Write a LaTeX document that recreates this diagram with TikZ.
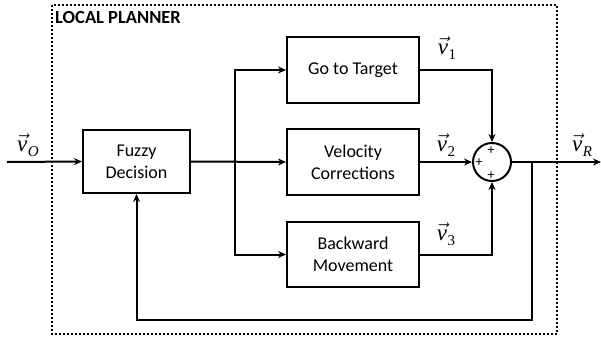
\documentclass[tikz,border=0pt]{standalone}
\usepackage{fontspec}
\setmainfont{Carlito}
\newfontfamily\lserif{Liberation Serif}
\usetikzlibrary{arrows.meta}
\newcommand\vlab[2]{{\lserif\fontsize{23}{23}\selectfont$\vec{\textit{v}}$\kern0.5pt\raisebox{-5pt}{\fontsize{15}{15}\selectfont #2}}}
\tikzset{
  blk/.style={draw, line width=2pt, minimum width=132pt, minimum height=66pt, align=center, font=\fontsize{18}{22}\selectfont, inner sep=0pt},
  conn/.style={line width=2pt},
  arr/.style={line width=2pt, -{Stealth[length=8pt,width=7pt]}},
  frame/.style={line width=2pt, dotted},
  plus/.style={font=\fontsize{14}{14}\selectfont, inner sep=0pt},
}
\begin{document}
\begin{tikzpicture}[x=1pt,y=-1pt]
\useasboundingbox (0,0) rectangle (601,338);
\draw[frame] (52,5) rectangle (557,334);
\node[anchor=north west, font=\bfseries\fontsize{18.5}{18.5}\selectfont, inner sep=0pt] (title) at (55,11) {LOCAL PLANNER};
\node[blk, minimum width=107pt, minimum height=63pt] (fuzzy) at (136.5,161.5) {Fuzzy\\Decision};
\node[blk] (go) at (353,70) {Go to Target};
\node[blk] (vel) at (353,162) {Velocity\\Corrections};
\node[blk, minimum height=65pt] (back) at (353,254.5) {Backward\\Movement};
\node[draw, circle, line width=2pt, minimum size=38pt, inner sep=0pt] (sum) at (492,162) {};
\node[plus] (p1) at (491,151) {+};
\node[plus] (p2) at (479,163) {+};
\node[plus] (p3) at (491,176) {+};
\coordinate (in) at (7,162);
\coordinate (out) at (601,162);
\coordinate (split) at (235,162);
\coordinate (fb) at (532,162);
\coordinate (fbl) at (532,320);
\draw[arr] (in) -- (fuzzy.west);
\draw[arr] (fuzzy.east) -- (vel.west);
\draw[arr] (split) |- (go.west);
\draw[arr] (split) |- (back.west);
\draw[arr] (go.east) -| (sum.north);
\draw[arr] (back.east) -| (sum.south);
\draw[arr] (vel.east) -- (sum.west);
\draw[arr] (sum.east) -- (out);
\draw[arr] (fb) -- (fbl) -| (fuzzy.south);
\node (v1) at (447,48) {\vlab{v}{1}};
\node (v2) at (446,145) {\vlab{v}{2}};
\node (v3) at (446,234) {\vlab{v}{3}};
\node (vR) at (582,145) {\vlab{v}{\textit{R}}};
\node (vO) at (28,145) {\vlab{v}{\textit{O}}};
\end{tikzpicture}
\end{document}
